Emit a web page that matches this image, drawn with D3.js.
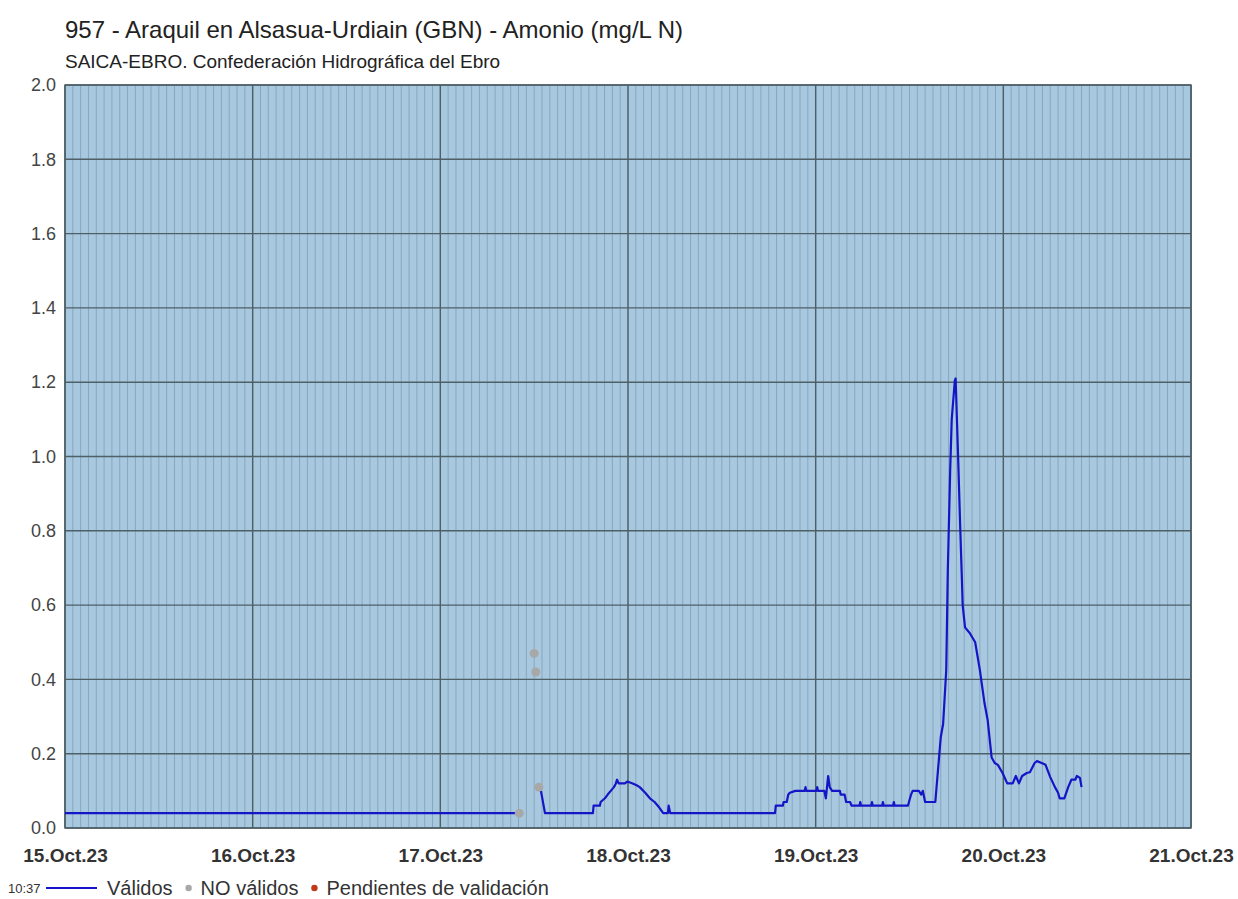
<!DOCTYPE html>
<html>
<head>
<meta charset="utf-8">
<script src="https://cdn.jsdelivr.net/npm/d3@7"></script>
<style>
  body { margin: 0; background: #fff; }
  text { font-family: Arial, "Liberation Sans", sans-serif; }
</style>
</head>
<body>
<script>
// series (Amonio mg/L N)
var validTimes = [
  "2023-10-15 00:00", "2023-10-17 09:48", null,
  "2023-10-17 12:52", "2023-10-17 13:23", "2023-10-17 19:31", "2023-10-17 19:36", "2023-10-17 20:24",
  "2023-10-17 20:30", "2023-10-17 21:03", "2023-10-17 21:24", "2023-10-17 21:48", "2023-10-17 22:12",
  "2023-10-17 22:27", "2023-10-17 22:36", "2023-10-17 22:48", "2023-10-17 23:36", "2023-10-17 23:54",
  "2023-10-18 00:36", "2023-10-18 01:06", "2023-10-18 01:30", "2023-10-18 02:12", "2023-10-18 02:48",
  "2023-10-18 03:24", "2023-10-18 04:00", "2023-10-18 04:30", "2023-10-18 05:06", "2023-10-18 05:12",
  "2023-10-18 05:24", "2023-10-18 18:48", "2023-10-18 18:54", "2023-10-18 19:48", "2023-10-18 19:54",
  "2023-10-18 20:18", "2023-10-18 20:30", "2023-10-18 20:42", "2023-10-18 21:24", "2023-10-18 22:36",
  "2023-10-18 22:42", "2023-10-18 22:48", "2023-10-19 00:06", "2023-10-19 00:12", "2023-10-19 00:18",
  "2023-10-19 01:06", "2023-10-19 01:18", "2023-10-19 01:36", "2023-10-19 01:48", "2023-10-19 02:06",
  "2023-10-19 03:06", "2023-10-19 03:12", "2023-10-19 03:42", "2023-10-19 03:54", "2023-10-19 04:24",
  "2023-10-19 04:36", "2023-10-19 05:36", "2023-10-19 05:42", "2023-10-19 05:48", "2023-10-19 07:06",
  "2023-10-19 07:12", "2023-10-19 07:18", "2023-10-19 08:30", "2023-10-19 08:36", "2023-10-19 08:42",
  "2023-10-19 09:54", "2023-10-19 10:00", "2023-10-19 10:06", "2023-10-19 11:48", "2023-10-19 12:12",
  "2023-10-19 12:24", "2023-10-19 13:12", "2023-10-19 13:30", "2023-10-19 13:42", "2023-10-19 14:00",
  "2023-10-19 15:18", "2023-10-19 15:30", "2023-10-19 16:00", "2023-10-19 16:18", "2023-10-19 16:42",
  "2023-10-19 16:54", "2023-10-19 17:12", "2023-10-19 17:24", "2023-10-19 17:48", "2023-10-19 17:54",
  "2023-10-19 18:12", "2023-10-19 18:30", "2023-10-19 18:42", "2023-10-19 18:48", "2023-10-19 19:06",
  "2023-10-19 19:42", "2023-10-19 20:24", "2023-10-19 21:00", "2023-10-19 21:36", "2023-10-19 22:00",
  "2023-10-19 22:30", "2023-10-19 22:54", "2023-10-19 23:18", "2023-10-19 23:54", "2023-10-20 00:30",
  "2023-10-20 01:12", "2023-10-20 01:36", "2023-10-20 02:00", "2023-10-20 02:24", "2023-10-20 03:00",
  "2023-10-20 03:24", "2023-10-20 04:00", "2023-10-20 04:18", "2023-10-20 04:54", "2023-10-20 05:24",
  "2023-10-20 06:00", "2023-10-20 06:36", "2023-10-20 07:00", "2023-10-20 07:12", "2023-10-20 07:48",
  "2023-10-20 08:18", "2023-10-20 08:42", "2023-10-20 09:12", "2023-10-20 09:24", "2023-10-20 09:48",
  "2023-10-20 10:00"
];
var validValues = [
  0.04, 0.04, null,
  0.10, 0.04, 0.04, 0.06, 0.06,
  0.07, 0.08, 0.09, 0.10, 0.11,
  0.12, 0.13, 0.12, 0.12, 0.125,
  0.12, 0.115, 0.11, 0.095, 0.08,
  0.07, 0.055, 0.04, 0.04, 0.06,
  0.04, 0.04, 0.06, 0.06, 0.07,
  0.07, 0.09, 0.095, 0.10, 0.10,
  0.11, 0.10, 0.10, 0.11, 0.10,
  0.10, 0.08, 0.14, 0.11, 0.10,
  0.10, 0.09, 0.09, 0.07, 0.07,
  0.06, 0.06, 0.07, 0.06, 0.06,
  0.07, 0.06, 0.06, 0.07, 0.06,
  0.06, 0.07, 0.06, 0.06, 0.09,
  0.10, 0.10, 0.09, 0.10, 0.07,
  0.07, 0.12, 0.245, 0.28, 0.425,
  0.695, 0.96, 1.10, 1.205, 1.21,
  1.01, 0.80, 0.67, 0.60, 0.54,
  0.525, 0.50, 0.425, 0.335, 0.29,
  0.19, 0.175, 0.17, 0.148, 0.12,
  0.12, 0.14, 0.12, 0.14, 0.148,
  0.15, 0.175, 0.18, 0.175, 0.17,
  0.137, 0.11, 0.095, 0.08, 0.08,
  0.11, 0.13, 0.13, 0.14, 0.135,
  0.11
];
var invalidTimes = ["2023-10-17 10:06", "2023-10-17 12:00", "2023-10-17 12:12", "2023-10-17 12:36"];
var invalidValues = [0.04, 0.47, 0.42, 0.11];

var titleText = "957 - Araquil en Alsasua-Urdiain (GBN) - Amonio (mg/L N)";
var subtitleText = "SAICA-EBRO. Confederación Hidrográfica del Ebro";
var legendTime = "10:37";
var legendLabels = ["Válidos", "NO válidos", "Pendientes de validación"];
var legendColors = ["#1515c8", "#a8a8a8", "#c0391b"];

var W = 1238, H = 899;
var margin = {left: 65, right: 47, top: 85, bottom: 71};
var parse = d3.timeParse("%Y-%m-%d %H:%M");

var valid = validTimes.map(function (t, i) {
  return {t: t ? parse(t) : null, v: validValues[i]};
});
var invalid = invalidTimes.map(function (t, i) {
  return {t: parse(t), v: invalidValues[i]};
});

var svg = d3.select("body").append("svg").attr("width", W).attr("height", H);

var x = d3.scaleTime()
  .domain([parse("2023-10-15 00:00"), parse("2023-10-21 00:00")])
  .range([margin.left, W - margin.right]);
var y = d3.scaleLinear().domain([0, 2]).range([H - margin.bottom, margin.top]);

// titles
svg.append("text").attr("x", 65).attr("y", 38)
  .style("font-size", "24px").style("fill", "#222").text(titleText);
svg.append("text").attr("x", 65).attr("y", 68)
  .style("font-size", "19px").style("fill", "#222").text(subtitleText);

// plot background
svg.append("rect")
  .attr("x", x.range()[0]).attr("y", y.range()[1])
  .attr("width", x.range()[1] - x.range()[0]).attr("height", y.range()[0] - y.range()[1])
  .attr("fill", "#a8c8df");

// hourly minor grid
svg.append("g").selectAll("line")
  .data(x.ticks(d3.timeHour.every(1)))
  .enter().append("line")
    .attr("x1", function (d) { return x(d); }).attr("x2", function (d) { return x(d); })
    .attr("y1", y.range()[1]).attr("y2", y.range()[0])
    .attr("stroke", "#86a7bf").attr("stroke-width", 1);

// major grid
svg.append("g").selectAll("line")
  .data(y.ticks(10))
  .enter().append("line")
    .attr("x1", x.range()[0]).attr("x2", x.range()[1])
    .attr("y1", function (d) { return y(d); }).attr("y2", function (d) { return y(d); })
    .attr("stroke", "#4e5f66").attr("stroke-width", 1.4);
svg.append("g").selectAll("line")
  .data(x.ticks(d3.timeDay.every(1)))
  .enter().append("line")
    .attr("x1", function (d) { return x(d); }).attr("x2", function (d) { return x(d); })
    .attr("y1", y.range()[1]).attr("y2", y.range()[0])
    .attr("stroke", "#4e5f66").attr("stroke-width", 1.4);

// frame
svg.append("rect")
  .attr("x", x.range()[0]).attr("y", y.range()[1])
  .attr("width", x.range()[1] - x.range()[0]).attr("height", y.range()[0] - y.range()[1])
  .attr("fill", "none").attr("stroke", "#4e5f66").attr("stroke-width", 1.4);

// axes
var yAxis = svg.append("g").attr("transform", "translate(" + x.range()[0] + ",0)")
  .call(d3.axisLeft(y).ticks(10).tickFormat(d3.format(".1f")).tickSize(0).tickPadding(9));
yAxis.select(".domain").remove();
yAxis.selectAll("text").style("font-size", "18px").style("fill", "#444");

var xAxis = svg.append("g").attr("transform", "translate(0," + y.range()[0] + ")")
  .call(d3.axisBottom(x).ticks(d3.timeDay.every(1)).tickFormat(d3.timeFormat("%d.%b.%y")).tickSize(0).tickPadding(21));
xAxis.select(".domain").remove();
xAxis.selectAll("text").style("font-size", "19px").style("font-weight", "bold").style("fill", "#333");

// valid series
var line = d3.line()
  .defined(function (d) { return d.t !== null && d.v !== null; })
  .x(function (d) { return x(d.t); })
  .y(function (d) { return y(d.v); });
svg.append("path").datum(valid)
  .attr("d", line)
  .attr("fill", "none").attr("stroke", legendColors[0]).attr("stroke-width", 2.2)
  .attr("stroke-linejoin", "round");

// invalid points
svg.append("g").selectAll("circle")
  .data(invalid)
  .enter().append("circle")
    .attr("cx", function (d) { return x(d.t); })
    .attr("cy", function (d) { return y(d.v); })
    .attr("r", 4.5).attr("fill", legendColors[1]);

// legend
var ly = 888;
svg.append("text").attr("x", 8).attr("y", ly + 5)
  .style("font-size", "13px").style("fill", "#333").text(legendTime);
svg.append("line").attr("x1", 46).attr("x2", 97).attr("y1", ly).attr("y2", ly)
  .attr("stroke", legendColors[0]).attr("stroke-width", 2.2);
var lx = 107;
legendLabels.forEach(function (lab, i) {
  if (i > 0) {
    svg.append("circle").attr("cx", lx + 4).attr("cy", ly).attr("r", 3.2).attr("fill", legendColors[i]);
    lx += 16;
  }
  var t = svg.append("text").attr("x", lx).attr("y", ly + 7)
    .style("font-size", "20px").style("fill", "#333").text(lab);
  lx += t.node().getComputedTextLength() + 12;
});
</script>
</body>
</html>
